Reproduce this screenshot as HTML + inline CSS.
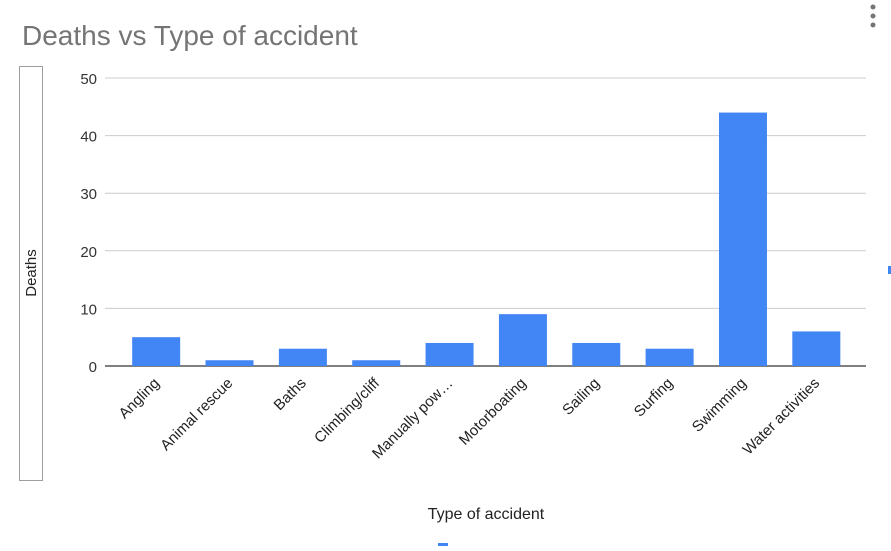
<!DOCTYPE html>
<html><head><meta charset="utf-8"><style>
body{margin:0;background:#fff;width:891px;height:546px;overflow:hidden;font-family:"Liberation Sans",Arial,sans-serif}
</style></head><body>
<svg width="891" height="546" xmlns="http://www.w3.org/2000/svg" id="svg">
<text x="22" y="45" font-size="28" fill="#757575">Deaths vs Type of accident</text>
<g fill="#757575">
<circle cx="873" cy="7" r="2.5"/><circle cx="873" cy="16" r="2.5"/><circle cx="873" cy="25" r="2.5"/></g>
<rect x="19.5" y="66.5" width="23" height="414" fill="none" stroke="#9e9e9e"/>
<text transform="translate(36,273) rotate(-90)" text-anchor="middle" font-size="15" fill="#222">Deaths</text>
<text x="486" y="519" text-anchor="middle" font-size="16" fill="#222">Type of accident</text>
<rect x="888" y="266" width="3" height="8" fill="#4285f4"/>
<rect x="438" y="543" width="10" height="3" fill="#4285f4"/>
<g id="grid"></g><g id="bars"></g><g id="labels"></g>
</svg>
<script>
const categories=["Angling","Animal rescue","Baths","Climbing/cliff","Manually pow…","Motorboating","Sailing","Surfing","Swimming","Water activities"];
const deaths=[5,1,3,1,4,9,4,3,44,6];
const yTicks=[0,10,20,30,40,50];
const NS="http://www.w3.org/2000/svg";
const y0=366,yTop=78,yMax=50,left=105,right=866,bandL=119.5,bandR=853;
const y=v=>y0-(v/yMax)*(y0-yTop);
const bw=(bandR-bandL)/categories.length;
const x=i=>bandL+bw*(i+0.5);
function mk(t,a,p){const e=document.createElementNS(NS,t);for(const k in a)e.setAttribute(k,a[k]);p.appendChild(e);return e;}
const g=document.getElementById('grid'),b=document.getElementById('bars'),l=document.getElementById('labels');
yTicks.forEach(v=>{
 const ln=mk('line',{x1:left,x2:right,y1:y(v),y2:y(v),stroke:v===0?'#333':'#ccc','stroke-width':v===0?1.3:1},g);
 
 
 const t=mk('text',{x:97,y:y(v)+6,'text-anchor':'end','font-size':15,fill:'#333'},l);
 t.textContent=v;
 
 
});
categories.forEach((c,i)=>{
 const r=mk('rect',{x:x(i)-24,y:y(deaths[i]),width:48,height:y0-y(deaths[i]),fill:'#4285f4'},b);
 
 
 const t=mk('text',{transform:`translate(${x(i)+4},${y0+18}) rotate(-45)`,'text-anchor':'end','font-size':15,fill:'#222'},l);
 t.textContent=c;
 
 
});
</script>
</body></html>
